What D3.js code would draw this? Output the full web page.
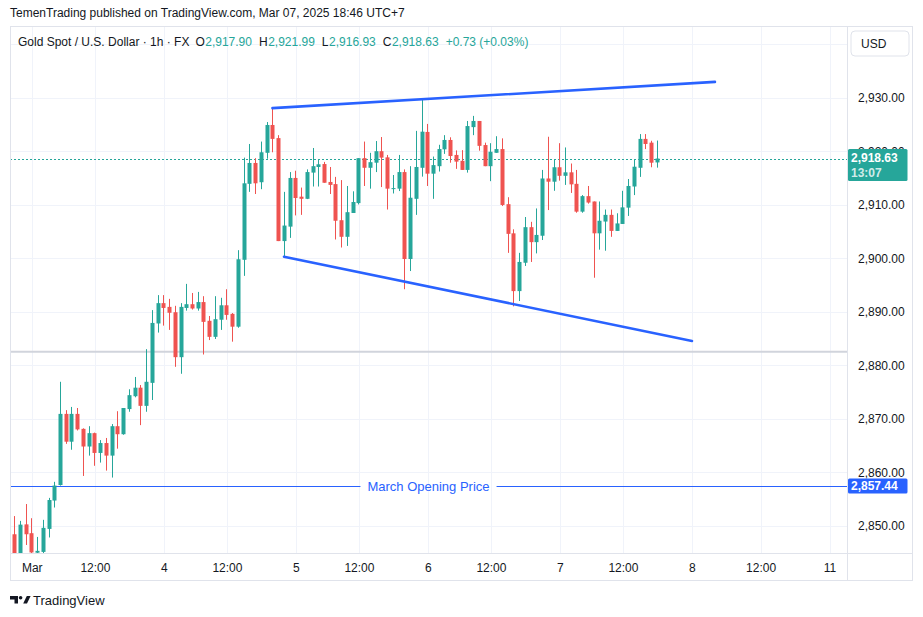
<!DOCTYPE html>
<html><head><meta charset="utf-8">
<script src="https://cdn.jsdelivr.net/npm/d3@7"></script>
<style>body{margin:0;background:#fff}svg{display:block}text{font-family:"Liberation Sans",Arial,sans-serif}</style>
</head><body>
<svg id="c" width="923" height="617"></svg>
<script>
// ---------------- data ----------------
const startIndex = -4; // bar index of first candle (0 = Mar 3 00:00)
const opens = [2856.4,2848.4,2844.8,2850.25,2848.6,2844.95,2845.1,2849.4,2854.7,2857.6,
2870.9,2865.7,2870.9,2868.1,2864.8,2867.3,2863.6,2865.45,2863.1,2868.6,
2867.1,2871.8,2874.2,2875.8,2872.4,2876.7,2887.8,2891.6,2890.9,2889.9,
2881.5,2890.7,2891.4,2890.6,2891.8,2888.3,2885.3,2888.5,2891.2,2889.6,
2887.2,2899.7,2913.9,2917.8,2914.2,2919.7,2924.9,2922.45,2903.2,2905.9,
2915.0,2911.5,2911.1,2916.0,2917.05,2917.6,2914.25,2913.85,2907.1,2904.0,
2908.45,2910.3,2918.7,2916.9,2917.85,2920.0,2918.85,2913.0,2913.0,2916.1,
2899.85,2911.1,2916.9,2923.6,2915.8,2917.2,2920.35,2922.1,2919.3,2918.2,
2916.5,2924.5,2925.65,2921.15,2917.2,2919.7,2920.4,2910.1,2904.65,2893.85,
2899.15,2905.8,2903.0,2904.2,2914.9,2914.3,2917.0,2915.4,2916.05,2913.9,
2908.7,2911.6,2910.6,2904.65,2906.85,2908.1,2905.1,2906.4,2909.45,2913.4,
2916.9,2922.3,2921.6,2917.90];
const highs = [2862.3,2851.8,2850.9,2854.05,2851.4,2847.9,2851.1,2855.2,2858.2,2876.9,
2871.6,2872.2,2872.0,2868.2,2868.6,2867.4,2866.0,2866.4,2869.0,2871.4,
2872.0,2875.5,2877.8,2876.3,2883.0,2890.3,2893.1,2893.1,2892.4,2891.1,
2891.6,2895.2,2893.5,2893.7,2892.9,2889.2,2892.9,2892.6,2894.2,2889.75,
2901.5,2918.8,2921.35,2918.7,2921.8,2925.45,2928.0,2923.0,2912.4,2916.1,
2916.35,2913.2,2916.6,2920.6,2918.35,2918.0,2917.05,2915.2,2914.6,2913.5,
2912.5,2918.7,2921.8,2919.7,2921.9,2922.65,2919.3,2915.55,2919.3,2916.6,
2917.2,2923.8,2929.9,2925.1,2919.0,2921.2,2923.0,2922.6,2920.15,2920.2,
2925.65,2926.6,2925.65,2921.6,2921.5,2922.8,2922.4,2911.4,2905.4,2901.0,
2907.7,2906.8,2909.3,2916.5,2922.7,2918.5,2921.5,2920.7,2917.7,2916.5,
2911.8,2913.5,2910.6,2910.6,2909.1,2909.1,2908.4,2912.6,2914.8,2918.5,
2923.2,2923.2,2921.95,2921.99];
const lows = [2848.0,2844.6,2844.6,2846.4,2844.6,2844.6,2844.6,2847.8,2853.4,2857.5,
2865.3,2864.2,2867.8,2859.3,2863.1,2861.2,2861.8,2860.3,2859.0,2864.4,
2867.0,2871.3,2874.0,2868.8,2871.3,2873.5,2886.1,2887.4,2886.6,2879.7,
2878.4,2890.2,2890.4,2890.2,2882.0,2884.7,2884.9,2886.6,2888.5,2884.4,
2887.0,2896.7,2912.4,2912.0,2912.9,2918.6,2919.8,2903.2,2900.4,2903.8,
2908.0,2908.1,2911.05,2913.4,2913.4,2914.1,2912.0,2903.5,2902.0,2902.3,
2908.45,2910.05,2913.5,2913.0,2916.1,2913.3,2909.1,2912.1,2912.55,2894.2,
2897.6,2908.1,2915.25,2913.5,2911.1,2916.2,2919.5,2917.85,2916.7,2916.5,
2916.0,2923.0,2920.1,2917.2,2914.4,2919.7,2909.75,2901.0,2891.0,2892.0,
2898.55,2899.3,2900.9,2903.4,2909.0,2912.6,2914.5,2913.7,2912.2,2908.5,
2908.5,2910.2,2896.35,2901.6,2901.4,2904.0,2905.1,2906.4,2907.9,2911.8,
2915.2,2920.4,2917.0,2916.93];
const closes = [2848.3,2844.8,2850.2,2848.4,2845.0,2845.3,2849.6,2854.8,2857.5,2870.9,
2865.7,2870.9,2868.0,2864.8,2867.3,2863.6,2865.45,2863.1,2868.6,2867.1,
2872.0,2874.4,2875.8,2872.4,2876.9,2887.9,2891.6,2890.7,2889.8,2881.5,
2890.9,2891.4,2890.6,2891.8,2888.1,2885.3,2888.6,2891.2,2889.4,2887.2,
2899.8,2914.0,2917.8,2914.0,2919.8,2924.9,2922.3,2903.2,2906.1,2915.0,
2911.25,2911.1,2916.1,2917.2,2917.55,2914.1,2913.7,2907.0,2904.0,2908.6,
2910.5,2918.7,2916.9,2917.95,2920.0,2918.8,2913.0,2913.1,2916.1,2899.85,
2911.3,2917.05,2923.65,2915.8,2917.4,2920.4,2922.1,2919.1,2918.05,2916.5,
2924.7,2925.65,2921.0,2917.2,2919.9,2920.4,2909.95,2904.55,2893.85,2899.3,
2905.8,2903.0,2904.35,2914.9,2914.3,2917.0,2915.4,2916.05,2913.8,2908.7,
2911.6,2910.4,2904.65,2907.0,2908.1,2905.1,2906.5,2909.5,2913.5,2917.1,
2922.3,2921.35,2917.85,2918.63];

const timeTicks  = [0, 11, 23, 34, 46, 57, 69, 80, 92, 103, 115, 127, 139];
const timeLabels = ["Mar","12:00","4","12:00","5","12:00","6","12:00","7","12:00","8","12:00","11"];
const priceTicks = [2850, 2860, 2870, 2880, 2890, 2900, 2910, 2920, 2930, 2940];

const upperTrend = [[41.85, 2928.05], [118.95, 2932.95]];
const lowerTrend = [[43.86, 2900.28], [114.95, 2884.52]];
const greyLevel  = 2882.5;
const marchOpen  = 2857.44;
const lastPrice  = 2918.63;
const countdown  = "13:07";

const headerText = "TemenTrading published on TradingView.com, Mar 07, 2025 18:46 UTC+7";
const symbolText = "Gold Spot / U.S. Dollar \u00b7 1h \u00b7 FX";
const ohlcLegend = [["O","2,917.90"],["H","2,921.99"],["L","2,916.93"],["C","2,918.63"]];
const changeText = "+0.73 (+0.03%)";

// ---------------- layout ----------------
const GREEN = "#26a69a", RED = "#ef5350", BLUE = "#2962ff", TXT = "#131722";
const paneL = 10, paneR = 847, paneT = 27, paneB = 553, axisR = 913, axisB = 581;

const svg = d3.select("#c");
const x = d3.scaleLinear().domain([0, 139]).range([32.3, 830.0]);
const y = d3.scaleLinear().domain([2850, 2930]).range([525.7, 97.7]);
const fmt = d3.format(",.2f");

// header
svg.append("text").attr("x", 10).attr("y", 17).attr("font-size", 12).attr("fill", TXT).text(headerText);

// clip
svg.append("clipPath").attr("id", "pane").append("rect")
  .attr("x", paneL).attr("y", paneT).attr("width", paneR - paneL).attr("height", paneB - paneT);
const pane = svg.append("g").attr("clip-path", "url(#pane)");

// grid
pane.selectAll(".hg").data(priceTicks).join("line")
  .attr("x1", paneL).attr("x2", paneR)
  .attr("y1", d => Math.round(y(d)) + 0.5).attr("y2", d => Math.round(y(d)) + 0.5)
  .attr("stroke", "#f0f3fa").attr("stroke-width", 1);
pane.selectAll(".vg").data(timeTicks).join("line")
  .attr("x1", d => Math.round(x(d)) + 0.5).attr("x2", d => Math.round(x(d)) + 0.5)
  .attr("y1", paneT).attr("y2", paneB)
  .attr("stroke", "#f0f3fa").attr("stroke-width", 1);

// grey level
pane.append("line").attr("x1", paneL).attr("x2", paneR)
  .attr("y1", y(greyLevel)).attr("y2", y(greyLevel))
  .attr("stroke", "#d1d4dc").attr("stroke-width", 2);

// march opening price line with label
const moY = Math.round(y(marchOpen)) + 0.5;
const cx = (paneL + paneR) / 2;
const moLabel = pane.append("text").attr("x", cx).attr("y", moY + 4.5)
  .attr("text-anchor", "middle").attr("font-size", 13).attr("fill", BLUE).text("March Opening Price");
const moW = moLabel.node().getComputedTextLength();
pane.append("line").attr("x1", paneL).attr("x2", cx - moW / 2 - 7).attr("y1", moY).attr("y2", moY)
  .attr("stroke", BLUE).attr("stroke-width", 1);
pane.append("line").attr("x1", cx + moW / 2 + 7).attr("x2", paneR).attr("y1", moY).attr("y2", moY)
  .attr("stroke", BLUE).attr("stroke-width", 1);

// current price dotted line
const lpY = Math.round(y(lastPrice)) + 0.5;
pane.append("line").attr("x1", paneL).attr("x2", paneR).attr("y1", lpY).attr("y2", lpY)
  .attr("stroke", GREEN).attr("stroke-width", 1).attr("stroke-dasharray", "2,2");

// candles
const bars = opens.map((o, k) => ({ i: startIndex + k, o, h: highs[k], l: lows[k], c: closes[k] }));
const col = d => d.c >= d.o ? GREEN : RED;
pane.selectAll(".wick").data(bars).join("rect")
  .attr("x", d => Math.round(x(d.i)) - 1).attr("width", 1)
  .attr("y", d => y(d.h)).attr("height", d => Math.max(1, y(d.l) - y(d.h)))
  .attr("fill", col);
pane.selectAll(".body").data(bars).join("rect")
  .attr("x", d => Math.round(x(d.i)) - 2.5).attr("width", 4)
  .attr("y", d => y(Math.max(d.o, d.c)))
  .attr("height", d => Math.max(1, Math.abs(y(d.o) - y(d.c))))
  .attr("fill", col);

// trend lines
const ln = d3.line().x(d => x(d[0])).y(d => y(d[1]));
[upperTrend, lowerTrend].forEach(t => pane.append("path").attr("d", ln(t))
  .attr("fill", "none").attr("stroke", BLUE).attr("stroke-width", 2.6).attr("stroke-linecap", "round"));

// frame
svg.append("rect").attr("x", paneL + 0.5).attr("y", paneT - 0.5).attr("width", axisR - paneL - 1).attr("height", axisB - paneT)
  .attr("fill", "none").attr("stroke", "#e0e3eb");
svg.append("line").attr("x1", paneR + 0.5).attr("x2", paneR + 0.5).attr("y1", paneT).attr("y2", axisB)
  .attr("stroke", "#e0e3eb");
svg.append("line").attr("x1", paneL).attr("x2", axisR).attr("y1", paneB + 0.5).attr("y2", paneB + 0.5)
  .attr("stroke", "#e0e3eb");

// legend (flowing text)
const lg = svg.append("text").attr("x", 18).attr("y", 46).attr("font-size", 12).attr("fill", TXT);
lg.append("tspan").text(symbolText);
ohlcLegend.forEach((p, k) => {
  lg.append("tspan").attr("dx", k === 0 ? 6 : 7).attr("fill", TXT).text(p[0]);
  lg.append("tspan").attr("dx", 0.5).attr("fill", GREEN).text(p[1]);
});
lg.append("tspan").attr("dx", 7).attr("fill", GREEN).text(changeText);

// price axis
svg.append("g").selectAll("text").data(priceTicks.filter(d => y(d) > 60)).join("text")
  .attr("x", 858).attr("y", d => y(d) + 4.3).attr("font-size", 12).attr("fill", TXT)
  .text(d => fmt(d));

// USD box
svg.append("rect").attr("x", 851).attr("y", 31).attr("width", 58).attr("height", 25).attr("rx", 4)
  .attr("fill", "#fff").attr("stroke", "#e0e3eb");
svg.append("text").attr("x", 861).attr("y", 48).attr("font-size", 12).attr("fill", TXT).text("USD");

// last price box
svg.append("rect").attr("x", 848).attr("y", y(lastPrice) - 9.5).attr("width", 59.5).attr("height", 32).attr("rx", 1.5)
  .attr("fill", GREEN);
svg.append("text").attr("x", 851).attr("y", y(lastPrice) + 3.8).attr("font-size", 12).attr("font-weight", "bold")
  .attr("fill", "#fff").text(fmt(lastPrice));
svg.append("text").attr("x", 851).attr("y", y(lastPrice) + 18).attr("font-size", 12).attr("font-weight", "bold")
  .attr("fill", "#fff").attr("fill-opacity", 0.8).text(countdown);

// march open box
svg.append("rect").attr("x", 848).attr("y", y(marchOpen) - 7.5).attr("width", 59.5).attr("height", 15).attr("rx", 1.5)
  .attr("fill", BLUE);
svg.append("text").attr("x", 851).attr("y", y(marchOpen) + 4.3).attr("font-size", 12).attr("font-weight", "bold")
  .attr("fill", "#fff").text(fmt(marchOpen));

// time axis
svg.append("g").selectAll("text").data(timeTicks).join("text")
  .attr("x", d => x(d)).attr("y", 572).attr("text-anchor", "middle").attr("font-size", 12).attr("fill", TXT)
  .text((d, k) => timeLabels[k]);

// footer logo
const logo = svg.append("g").attr("fill", TXT);
logo.append("path").attr("d", "M10,596 H18 V603.5 H14.5 V599.5 H10 Z");
logo.append("circle").attr("cx", 20.6).attr("cy", 597.8).attr("r", 1.8);
logo.append("path").attr("d", "M23.2,603.5 L26.8,596 H30.6 L27,603.5 Z");
svg.append("text").attr("x", 33).attr("y", 604.5).attr("font-size", 13).attr("fill", TXT).text("TradingView");
</script>
</body></html>
